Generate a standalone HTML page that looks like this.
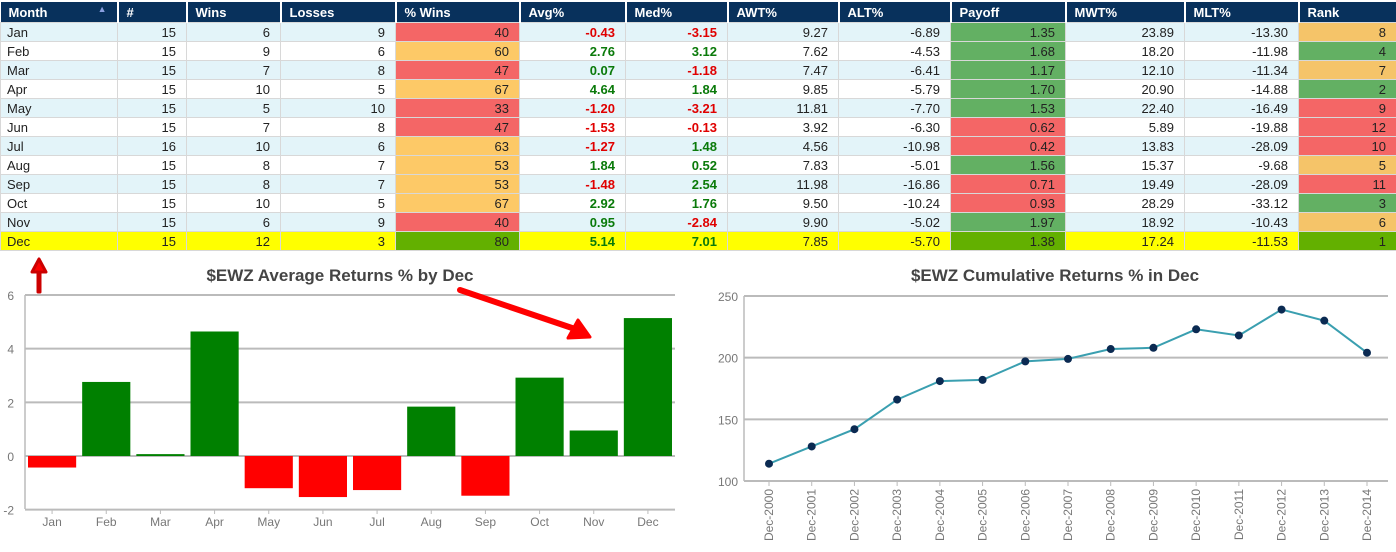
<!DOCTYPE html>
<html><head><meta charset="utf-8">
<style>
body{margin:0;width:1396px;height:552px;background:#fff;font-family:"Liberation Sans",sans-serif;overflow:hidden;position:relative}
table{position:absolute;left:0;top:2px;border-collapse:collapse;table-layout:fixed;width:1396px;font-size:13px}
th{background:#08315c;color:#fff;text-align:left;font-weight:bold;height:20px;padding:0 0 0 8px;border-right:2px solid #fff;position:relative}
td{height:18px;padding:0 10px 0 6px;text-align:right;border:1px solid #d8d8d8;color:#222}
td.m{text-align:left}
tr.o td{background:#e3f4f9}
tr.e td{background:#fff}
tr.y td{background:#ffff00}
.neg{color:#e00000;font-weight:bold}.pos{color:#0a7a0a;font-weight:bold}
svg{position:absolute;left:0;top:0}
</style></head><body>
<table>
<colgroup><col style="width:117px"><col style="width:69px"><col style="width:94px"><col style="width:115px"><col style="width:124px"><col style="width:106px"><col style="width:102px"><col style="width:111px"><col style="width:112px"><col style="width:115px"><col style="width:119px"><col style="width:114px"><col style="width:98px"></colgroup>
<thead><tr>
<th>Month<span style="position:absolute;right:10px;top:2px;color:#8aa0e0;font-size:9px">▲</span></th><th>#</th><th>Wins</th><th>Losses</th><th>% Wins</th><th>Avg%</th><th>Med%</th><th>AWT%</th><th>ALT%</th><th>Payoff</th><th>MWT%</th><th>MLT%</th><th>Rank</th>
</tr></thead><tbody id="tb"></tbody></table>
<svg id="ch" width="1396" height="552"></svg>
<script>
const months=["Jan","Feb","Mar","Apr","May","Jun","Jul","Aug","Sep","Oct","Nov","Dec"];
const counts=[15,15,15,15,15,15,16,15,15,15,15,15];
const wins=[6,9,7,10,5,7,10,8,8,10,6,12];
const losses=[9,6,8,5,10,8,6,7,7,5,9,3];
const pctWins=[40,60,47,67,33,47,63,53,53,67,40,80];
const avgRet=[-0.43,2.76,0.07,4.64,-1.20,-1.53,-1.27,1.84,-1.48,2.92,0.95,5.14];
const medRet=[-3.15,3.12,-1.18,1.84,-3.21,-0.13,1.48,0.52,2.54,1.76,-2.84,7.01];
const awt=[9.27,7.62,7.47,9.85,11.81,3.92,4.56,7.83,11.98,9.50,9.90,7.85];
const alt=[-6.89,-4.53,-6.41,-5.79,-7.70,-6.30,-10.98,-5.01,-16.86,-10.24,-5.02,-5.70];
const payoff=[1.35,1.68,1.17,1.70,1.53,0.62,0.42,1.56,0.71,0.93,1.97,1.38];
const mwt=[23.89,18.20,12.10,20.90,22.40,5.89,13.83,15.37,19.49,28.29,18.92,17.24];
const mlt=[-13.30,-11.98,-11.34,-14.88,-16.49,-19.88,-28.09,-9.68,-28.09,-33.12,-10.43,-11.53];
const rank=[8,4,7,2,9,12,10,5,11,3,6,1];
const years=["Dec-2000","Dec-2001","Dec-2002","Dec-2003","Dec-2004","Dec-2005","Dec-2006","Dec-2007","Dec-2008","Dec-2009","Dec-2010","Dec-2011","Dec-2012","Dec-2013","Dec-2014"];
const cumRet=[114,128,142,166,181,182,197,199,207,208,223,218,239,230,204];

function pctColor(v){return v>=80?"#63b000":v>=60?"#fdc967":v>=50?"#fdc967":"#f46666";}
function payColor(v,i){return i===11?"#63b000":v>=1?"#63b063":"#f46666";}
function rankColor(r){return r===1?"#63b000":r<=4?"#63b063":r<=8?"#f5c469":"#f46666";}
const tb=document.getElementById('tb');
months.forEach((m,i)=>{
  const tr=document.createElement('tr');
  
  
  tr.className=i===11?'y':(i%2===0?'o':'e');
  const f=v=>v.toFixed(2);
  const cells=[
    ['m',m,''],['',counts[i],''],['',wins[i],''],['',losses[i],''],
    ['',pctWins[i],pctColor(pctWins[i])],
    [avgRet[i]<0?'neg':'pos',f(avgRet[i]),''],
    [medRet[i]<0?'neg':'pos',f(medRet[i]),''],
    ['',f(awt[i]),''],['',f(alt[i]),''],
    ['',f(payoff[i]),payColor(payoff[i],i)],
    ['',f(mwt[i]),''],['',f(mlt[i]),''],
    ['',rank[i],rankColor(rank[i])]
  ];
  cells.forEach(c=>{
    const td=document.createElement('td');
    
    
    if(c[0])td.className=c[0];
    td.textContent=c[1];
    if(c[2])td.style.background=c[2];
    tr.appendChild(td);
  });
  tb.appendChild(tr);
});

const svg=document.getElementById('ch');const NS="http://www.w3.org/2000/svg";
function el(t,a,txt){const e=document.createElementNS(NS,t);for(const k in a)e.setAttribute(k,a[k]);if(txt!==undefined)e.textContent=txt;svg.appendChild(e);return e;}

// Bar chart
const bx0=25,bx1=675,byTop=295,byBot=509;
const by=v=>456-(v)*(456-295)/6;
const band=(bx1-bx0)/12;
let t=el('text',{x:340,y:281,'text-anchor':'middle','font-size':17,fill:'#444','font-weight':'bold'},'$EWZ Average Returns % by Dec');

[6,4,2,0,-2].forEach(v=>{
  const g=el('line',{x1:bx0,x2:bx1,y1:by(v),y2:by(v),stroke:'#bbb','stroke-width':2});
  
  const l=el('text',{x:14,y:by(v)+5,'text-anchor':'end','font-size':12,fill:'#777'},String(v));
  
});
el('line',{x1:bx0,x2:bx0,y1:295,y2:509,stroke:'#bbb','stroke-width':1.5});
avgRet.forEach((v,i)=>{
  const x=bx0+band*i+3;
  const y=Math.min(by(v),by(0)),h=Math.max(Math.abs(by(v)-by(0)),1);
  const r=el('rect',{x:x,y:y,width:band-6,height:h,fill:v>=0?'#008000':'#ff0000'});
  
  el('line',{x1:x+(band-6)/2,x2:x+(band-6)/2,y1:509,y2:514,stroke:'#bbb'});
  const l=el('text',{x:x+(band-6)/2,y:526,'text-anchor':'middle','font-size':12,fill:'#777'},months[i]);
  
});
// arrows
let a1=el('path',{d:'M38,292 L38,272 L32,272 L39,259 L46,272 L40,272 L40,292 Z',fill:'#f00',stroke:'#c00','stroke-width':3,'stroke-linejoin':'round'});

let a2=el('path',{d:'M460,290 L578,330',stroke:'#f00','stroke-width':6,'stroke-linecap':'round'});

el('path',{d:'M590,337 L568,338 L578,320 Z',fill:'#f00',stroke:'#f00','stroke-width':3,'stroke-linejoin':'round'});

// Line chart
const lx0=744,lx1=1388;
const ly=v=>481-(v-100)*(481-296)/150;
const lx=i=>769+i*(1367-769)/14;
t=el('text',{x:1055,y:281,'text-anchor':'middle','font-size':17,fill:'#444','font-weight':'bold'},'$EWZ Cumulative Returns % in Dec');

[250,200,150,100].forEach(v=>{
  const g=el('line',{x1:lx0,x2:lx1,y1:ly(v),y2:ly(v),stroke:'#bbb','stroke-width':2});
  
  const l=el('text',{x:738,y:ly(v)+5,'text-anchor':'end','font-size':12,fill:'#777'},String(v));
  
});
el('line',{x1:lx0,x2:lx0,y1:296,y2:481,stroke:'#bbb','stroke-width':1.5});
const pl=el('polyline',{points:cumRet.map((v,i)=>lx(i)+','+ly(v)).join(' '),fill:'none',stroke:'#3a9fb0','stroke-width':2});

cumRet.forEach((v,i)=>{
  const c=el('circle',{cx:lx(i),cy:ly(v),r:4,fill:'#0b2a52'});
  
  el('line',{x1:lx(i),x2:lx(i),y1:481,y2:486,stroke:'#bbb'});
  const l=el('text',{x:0,y:0,'text-anchor':'end','font-size':12,fill:'#777',transform:`translate(${lx(i)+4},489) rotate(-90)`},years[i]);
  
});
</script>
</body></html>
